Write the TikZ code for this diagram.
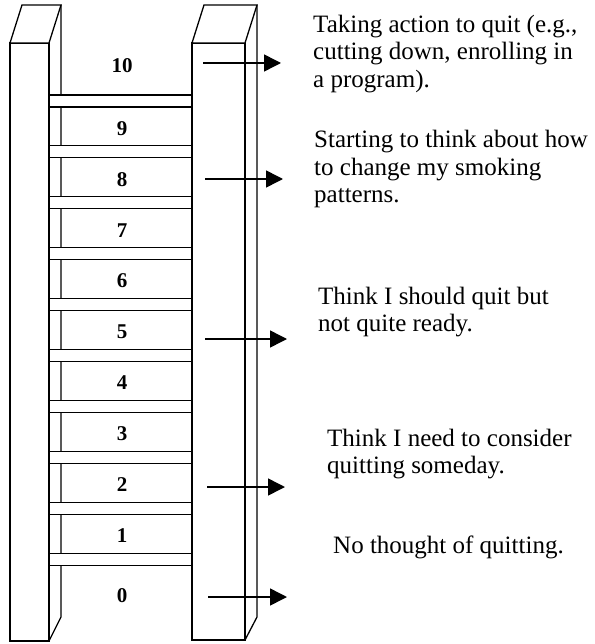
\documentclass[tikz,border=0pt]{standalone}
\usepackage{fontspec}
\setmainfont{Liberation Serif}
\usetikzlibrary{arrows.meta,positioning}

\begin{document}
\begin{tikzpicture}[x=1pt,y=-1pt,
    rail/.style={draw,line width=1.3pt,fill=white},
    rung/.style={draw,line width=1.1pt,fill=white},
    level/.style={font=\fontsize{21}{21}\selectfont\bfseries,inner sep=0pt},
    stage/.style={font=\fontsize{25}{27.5}\selectfont,align=left,anchor=west,inner sep=0pt},
    pointer/.style={line width=1.5pt,-{Triangle[length=17pt,width=17pt]}}]
  \useasboundingbox (0,0) rectangle (594,644);
  % Left rail
  \draw[rail] (10,43) rectangle (49,641);
  \draw[rail] (10,43) -- (22,5) -- (61,5) -- (49,43) -- cycle;
  \draw[line width=1.3pt] (61,5) -- (61,617) -- (49,641);
  % Right rail
  \draw[rail] (192,43) rectangle (245,640);
  \draw[rail] (192,43) -- (204,5) -- (257,5) -- (245,43) -- cycle;
  \draw[line width=1.3pt] (257,5) -- (257,617) -- (245,640);
  % Rungs
  \foreach \i in {1,...,10}{
    \pgfmathsetmacro{\ytop}{95+50.9*(\i-1)}
    \draw[rung] (49,\ytop) rectangle (192,\ytop+12);
  }
  % Level numbers
  \node[level] (l10) at (122,66) {10};
  \foreach \n [count=\k] in {9,8,7,6,5,4,3,2,1}{
    \pgfmathsetmacro{\ymid}{95+50.9*\k-19.5+2}
    \node[level] (l\n) at (122,\ymid) {\n};
  }
  \node[level] (l0) at (122,596) {0};
  % Stage texts
  \node[stage] (s10) at (313,54) {Taking action to quit (e.g.,\\cutting down, enrolling in\\a program).};
  \node[stage] (s8) at (314,169) {Starting to think about how\\to change my smoking\\patterns.};
  \node[stage] (s5) at (318,312) {Think I should quit but\\not quite ready.};
  \node[stage] (s2) at (327,454) {Think I need to consider\\quitting someday.};
  \node[stage] (s0) at (333,547) {No thought of quitting.};
  % Arrows
  \foreach \n/\y/\xa/\xb in {10/63/203/281, 8/179/205/283, 5/339/205/287, 2/487/207/285, 0/597/208/287}{
    \coordinate (p\n a) at (\xa,\y);
    \coordinate (p\n b) at (\xb,\y);
    \draw[pointer] (p\n a) -- (p\n b);
  }
\end{tikzpicture}
\end{document}
